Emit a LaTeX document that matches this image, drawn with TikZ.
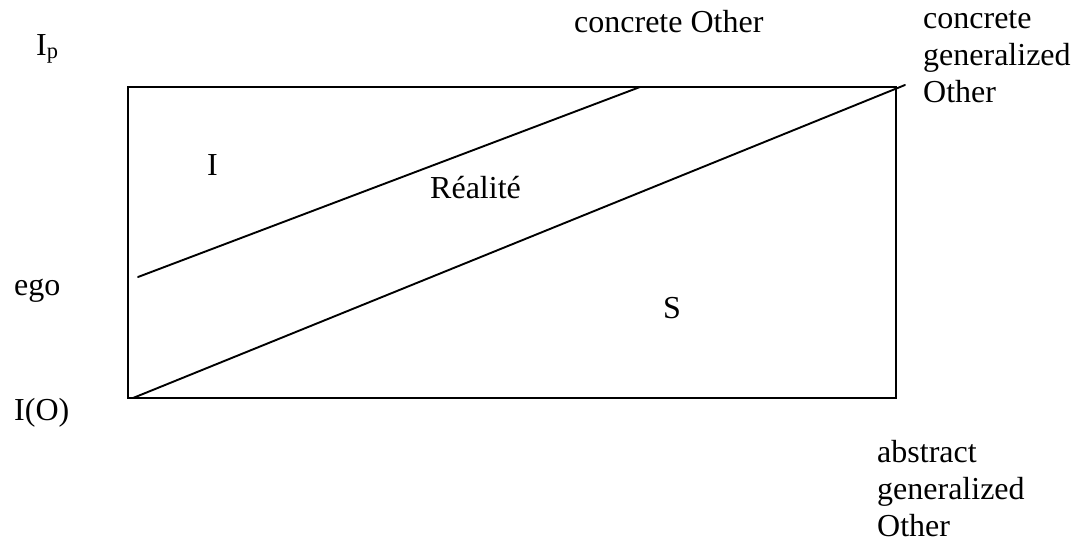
\documentclass[tikz,border=0pt]{standalone}
\usepackage{fontspec}
\setmainfont{Liberation Serif}
\begin{document}
\begin{tikzpicture}[x=1pt,y=-1pt,
  lbl/.style={inner sep=0pt,anchor=base west,font=\fontsize{32}{37}\selectfont,align=left},
  edge/.style={line width=1.9pt,line cap=round}]
\useasboundingbox (0,0) rectangle (1089,541);
% frame corners
\coordinate (tl) at (128,87);
\coordinate (tr) at (896,87);
\coordinate (br) at (896,398);
\coordinate (bl) at (128,398);
\draw[edge,line join=miter] (tl) -- (tr) -- (br) -- (bl) -- cycle;
% diagonal lines
\coordinate (a1) at (138,277);
\coordinate (a2) at (640,87);
\coordinate (b1) at (133,398);
\coordinate (b2) at (905,85);
\draw[edge] (a1) -- (a2);
\draw[edge] (b1) -- (b2);
% labels (multi-line nodes: base anchor is the last line)
\node[lbl] (ip) at (36,55) {I\textsubscript{p}};
\node[lbl] (ego) at (14,295) {ego};
\node[lbl] (io) at (14,420) {I(O)};
\node[lbl] (co) at (574,32) {concrete Other};
\node[lbl] (cgo) at (923,102) {concrete\\generalized\\Other};
\node[lbl] (ago) at (877,536) {abstract\\generalized\\Other};
\node[lbl] (i) at (207,175) {I};
\node[lbl] (r) at (430,198) {Réalité};
\node[lbl] (s) at (663,318) {S};
\end{tikzpicture}
\end{document}
